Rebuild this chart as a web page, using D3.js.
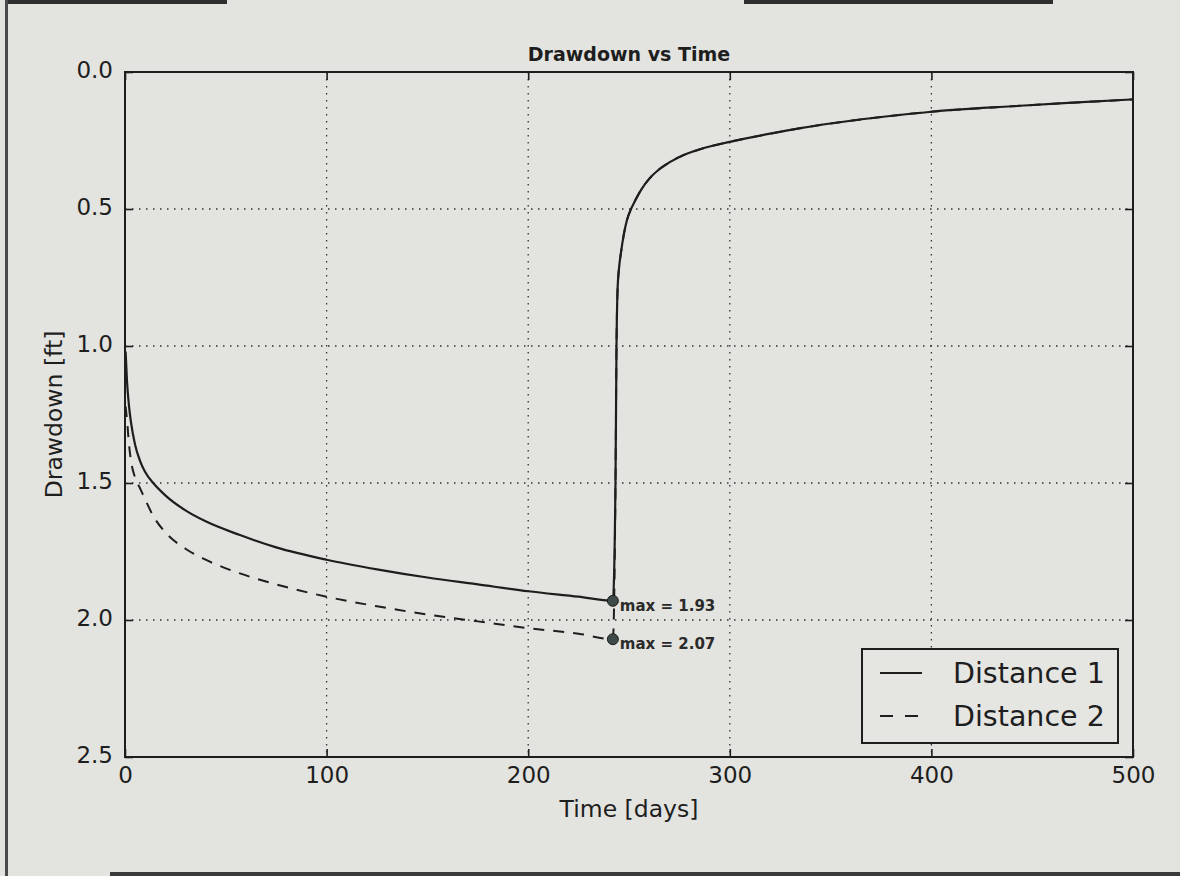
<!DOCTYPE html>
<html><head><meta charset="utf-8">
<script src="https://cdn.jsdelivr.net/npm/d3@7"></script>
<style>
html,body{margin:0;padding:0;background:#e3e3df;}
svg{display:block;font-family:"DejaVu Sans",sans-serif;}
</style></head>
<body>
<svg id="chart" width="1180" height="876"></svg>
<script>
// ---- data ----
const pumpTime = [0.3, 1, 2, 3, 5, 7.5, 10, 14, 20, 30, 40, 57, 75, 100, 125, 150, 175, 200, 225, 242];
const dist1Pump = [1.02, 1.13, 1.22, 1.28, 1.36, 1.42, 1.46, 1.50, 1.545, 1.60, 1.64, 1.69, 1.735, 1.78, 1.815, 1.845, 1.87, 1.895, 1.915, 1.93];
const dist2Pump = [1.22, 1.27, 1.36, 1.42, 1.48, 1.52, 1.56, 1.62, 1.68, 1.74, 1.78, 1.83, 1.87, 1.915, 1.95, 1.98, 2.005, 2.03, 2.05, 2.07];
const recTime = [243.3, 243.8, 244.3, 245, 246, 247.5, 249, 251, 253, 256, 260, 265, 270, 278, 286, 300, 320, 335, 360, 384, 400, 440, 470, 500];
const dist1Rec = [1.50, 1.00, 0.80, 0.72, 0.66, 0.59, 0.54, 0.50, 0.47, 0.43, 0.39, 0.355, 0.33, 0.30, 0.28, 0.255, 0.225, 0.205, 0.178, 0.157, 0.145, 0.125, 0.112, 0.10];
const dist2Rec = [1.50, 1.00, 0.80, 0.72, 0.66, 0.59, 0.54, 0.50, 0.47, 0.43, 0.39, 0.355, 0.33, 0.30, 0.28, 0.255, 0.225, 0.205, 0.178, 0.157, 0.145, 0.125, 0.112, 0.10];
const maxTime = [242, 242];
const maxValue = [1.93, 2.07];
const seriesNames = ["Distance 1", "Distance 2"];
const xTicks = [0, 100, 200, 300, 400, 500];
const yTicks = [0.0, 0.5, 1.0, 1.5, 2.0, 2.5];
const titleText = "Drawdown vs Time";
const xLabel = "Time [days]";
const yLabel = "Drawdown [ft]";

// ---- layout ----
const svg = d3.select("#chart");
const W = 1180, H = 876;
const m = {left:125, right:1133, top:72, bottom:757};
const ink = "#1e1e1e";

// photo frame artefacts
svg.append("rect").attr("x",0).attr("y",0).attr("width",W).attr("height",H).attr("fill","#e3e3df");
svg.append("rect").attr("x",5).attr("y",0).attr("width",3).attr("height",H).attr("fill","#4a4a4a");
svg.append("rect").attr("x",8).attr("y",0).attr("width",219).attr("height",4).attr("fill","#2e2e2e");
svg.append("rect").attr("x",744).attr("y",0).attr("width",309).attr("height",4).attr("fill","#2e2e2e");
svg.append("rect").attr("x",110).attr("y",872).attr("width",W-110).attr("height",4).attr("fill","#3a3a3a");

const x = d3.scaleLinear().domain([0,500]).range([m.left, m.right]);
const y = d3.scaleLinear().domain([0,2.5]).range([m.top, m.bottom]);

// grid
const g = svg.append("g");
g.selectAll(".gx").data(xTicks.slice(1,-1)).join("line")
  .attr("x1",d=>x(d)).attr("x2",d=>x(d)).attr("y1",m.top).attr("y2",m.bottom)
  .attr("stroke","#333").attr("stroke-width",1.3).attr("stroke-dasharray","1.5,5.5");
g.selectAll(".gy").data(yTicks.slice(1,-1)).join("line")
  .attr("y1",d=>y(d)).attr("y2",d=>y(d)).attr("x1",m.left).attr("x2",m.right)
  .attr("stroke","#333").attr("stroke-width",1.3).attr("stroke-dasharray","1.5,5.5");

// axes with inward ticks on all sides
const tickLen = 8;
const xAxisB = d3.axisBottom(x).tickValues(xTicks).tickSize(-tickLen).tickPadding(10).tickFormat(d3.format("d"));
const xAxisT = d3.axisTop(x).tickValues(xTicks).tickSize(-tickLen).tickFormat("");
const yAxisL = d3.axisLeft(y).tickValues(yTicks).tickSize(-tickLen).tickPadding(12).tickFormat(d3.format(".1f"));
const yAxisR = d3.axisRight(y).tickValues(yTicks).tickSize(-tickLen).tickFormat("");

function style(sel){
  sel.select(".domain").remove();
  sel.selectAll(".tick line").attr("stroke",ink).attr("stroke-width",1.6);
  sel.selectAll(".tick text").attr("fill",ink).style("font-size","23px").style("font-family","DejaVu Sans");
}
svg.append("g").attr("transform",`translate(0,${m.bottom})`).call(xAxisB).call(style);
svg.append("g").attr("transform",`translate(0,${m.top})`).call(xAxisT).call(style);
svg.append("g").attr("transform",`translate(${m.left},0)`).call(yAxisL).call(style)
  .selectAll(".tick text").attr("dy","0.22em");
svg.append("g").attr("transform",`translate(${m.right},0)`).call(yAxisR).call(style);

// lines
const line = d3.line().x(d=>x(d[0])).y(d=>y(d[1])).curve(d3.curveMonotoneX);
const s1 = pumpTime.map((t,i)=>[t,dist1Pump[i]]).concat(recTime.map((t,i)=>[t,dist1Rec[i]]));
const s2 = pumpTime.map((t,i)=>[t,dist2Pump[i]]).concat(recTime.map((t,i)=>[t,dist2Rec[i]]));
svg.append("clipPath").attr("id","pc").append("rect")
  .attr("x",m.left).attr("y",m.top).attr("width",m.right-m.left).attr("height",m.bottom-m.top);
svg.append("path").attr("clip-path","url(#pc)").attr("d",line(s2)).attr("fill","none")
  .attr("stroke",ink).attr("stroke-width",2).attr("stroke-dasharray","11,9");
svg.append("path").attr("clip-path","url(#pc)").attr("d",line(s1)).attr("fill","none")
  .attr("stroke",ink).attr("stroke-width",2.2);

// max markers
maxTime.forEach((t,i)=>{
  svg.append("circle").attr("cx",x(t)).attr("cy",y(maxValue[i])).attr("r",5.5)
    .attr("fill","#3d4a48").attr("stroke",ink).attr("stroke-width",1);
  svg.append("text").attr("x",x(t)+7).attr("y",y(maxValue[i])+10)
    .attr("fill","#2a2a2a").style("font-size","15px").style("font-weight","bold")
    .text("max = " + maxValue[i].toFixed(2));
});

// frame
svg.append("rect").attr("x",m.left).attr("y",m.top).attr("width",m.right-m.left).attr("height",m.bottom-m.top)
  .attr("fill","none").attr("stroke",ink).attr("stroke-width",2);

// title and labels
svg.append("text").attr("x",(m.left+m.right)/2).attr("y",61).attr("text-anchor","middle")
  .attr("fill",ink).style("font-size","19px").style("font-weight","bold").text(titleText);
svg.append("text").attr("x",(m.left+m.right)/2).attr("y",817).attr("text-anchor","middle")
  .attr("fill",ink).style("font-size","23.5px").text(xLabel);
svg.append("text").attr("transform",`translate(62,${(m.top+m.bottom)/2}) rotate(-90)`).attr("text-anchor","middle")
  .attr("fill",ink).style("font-size","23.5px").text(yLabel);

// legend
const lg = svg.append("g");
lg.append("rect").attr("x",862).attr("y",649).attr("width",256).attr("height",94)
  .attr("fill","#e5e5e2").attr("stroke",ink).attr("stroke-width",2);
seriesNames.forEach((name,i)=>{
  const yy = 673 + i*43;
  lg.append("line").attr("x1",880).attr("x2",922).attr("y1",yy).attr("y2",yy)
    .attr("stroke",ink).attr("stroke-width",2).attr("stroke-dasharray", i===0 ? null : "13,12");
  lg.append("text").attr("x",953).attr("y",yy+10).attr("fill",ink)
    .style("font-size","28.5px").text(name);
});
</script>
</body></html>
